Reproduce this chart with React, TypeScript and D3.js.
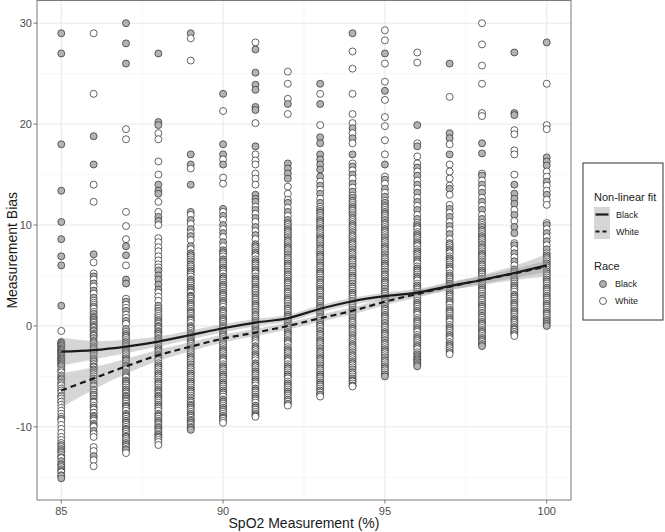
import React from 'react';
import * as d3 from 'd3';

const spo2 = [85, 86, 87, 88, 89, 90, 91, 92, 93, 94, 95, 96, 97, 98, 99, 100];

const blackBias: number[][] = [
  [29, 27, 18, 13.4, 10.3, 8.6, 6.9, 6, 2, -1.6, -1.9, -2.2, -2.5, -2.8, -3.1, -3.4, -3.7, -4, -5.3, -7.5, -9.2, -11.8, -12.5, -13.4, -14.2, -14.8, -15.1],
  [18.8, 16, 7.1, 4.9, 4.2, 3.5, 2.8, 1.2, 0.6, 0.1, -0.5, -1.2, -2.0, -2.7, -3.5, -4.4, -5.2, -6.3, -7.5, -8.6, -9.2, -9.7, -10.4, -12.9],
  [30, 28, 26, 7.9, 7.0, 4.6, 4.2, 2.4, 1.5, 0.5, -0.3, -1.0, -1.8, -2.6, -3.4, -4.0, -4.8, -5.7, -6.5, -7.2, -8.0, -8.9, -9.6, -10.3, -11.0, -11.8, -12.3],
  [27, 20.2, 19.9, 14.0, 13.4, 13.1, 10.8, 10.4, 5.5, 5.0, 4.6, 4.1, 3.6, 2.0, 0.4, 0.0, -0.6, -1.3, -2.2, -3.0, -3.9, -4.7, -5.5, -6.3, -7.0, -7.8, -8.7, -9.4, -10.1, -10.8],
  [29, 17, 16, 14, 11.3, 10.5, 9.6, 8.9, 7.9, 7.0, 6.1, 5.3, 4.4, 3.6, 2.9, 2.1, 1.3, 0.6, -0.2, -0.9, -1.6, -2.4, -3.2, -4.1, -4.9, -5.7, -6.5, -7.4, -8.1, -8.9, -9.6, -10.3],
  [23, 18, 17, 16, 11.6, 10.9, 10.0, 9.2, 8.3, 7.5, 6.6, 5.8, 4.9, 4.1, 3.3, 2.5, 1.6, 0.8, 0.0, -0.7, -1.5, -2.3, -3.1, -4.0, -4.8, -5.6, -6.4, -7.3, -8.1, -8.9],
  [27.4, 25.1, 23.9, 23.4, 21.7, 21.4, 17.8, 13.0, 12.6, 12.3, 11.5, 10.7, 9.8, 9.0, 8.1, 7.3, 6.4, 5.6, 4.7, 3.9, 3.1, 2.2, 1.4, 0.5, -0.3, -1.1, -2.0, -2.8, -3.7, -4.5, -5.3, -6.2, -7.0, -7.9, -8.7],
  [22, 16.1, 15.6, 15.1, 14.6, 12.2, 11.3, 10.5, 9.6, 8.8, 7.9, 7.1, 6.2, 5.4, 4.5, 3.7, 2.8, 2.0, 1.1, 0.3, -0.6, -1.4, -2.3, -3.1, -4.0, -4.8, -5.7, -6.5, -7.3],
  [24, 22, 18.7, 18.1, 17, 16.5, 16, 15.5, 14.8, 13.9, 13.1, 12.2, 11.4, 10.5, 9.7, 8.8, 8.0, 7.1, 6.3, 5.4, 4.6, 3.7, 2.9, 2.0, 1.2, 0.3, -0.5, -1.4, -2.2, -3.1, -3.9, -4.8, -5.6, -6.4],
  [29, 19.6, 18.6, 17.0, 15.8, 15.0, 14.1, 13.3, 12.4, 11.6, 10.7, 9.9, 9.0, 8.2, 7.3, 6.5, 5.6, 4.8, 3.9, 3.1, 2.2, 1.4, 0.5, -0.3, -1.2, -2.0, -2.9, -3.7, -4.6, -5.4],
  [27, 23.3, 16, 14.5, 13.6, 12.8, 11.9, 11.1, 10.2, 9.4, 8.5, 7.7, 6.8, 6.0, 5.1, 4.3, 3.4, 2.6, 1.7, 0.9, 0.0, -0.8, -1.7, -2.5, -3.4, -4.2, -5.0],
  [19.9, 17.8, 15.7, 14.9, 14.0, 13.2, 12.3, 11.5, 10.6, 9.8, 8.9, 8.1, 7.2, 6.4, 5.5, 4.7, 3.8, 3.0, 2.1, 1.3, 0.4, -0.4, -1.3, -2.1, -3.0, -3.6, -4.0],
  [26, 19.1, 18.6, 17, 13.6, 11.6, 10.8, 9.9, 9.1, 8.2, 7.4, 6.5, 5.7, 4.8, 4.0, 3.1, 2.3, 1.4, 0.6, -0.3, -1.1, -2.0],
  [18.1, 17.1, 14.9, 14.0, 13.2, 12.3, 11.5, 10.6, 9.8, 8.9, 8.1, 7.2, 6.4, 5.5, 4.7, 3.8, 3.0, 2.1, 1.3, 0.4, -0.4, -1.2, -2.0],
  [27.1, 21.1, 20.9, 14, 13.1, 12.6, 12.1, 11.0, 9.8, 9.2, 8.0, 7.2, 6.4, 5.6, 4.8, 4.0, 3.1, 2.3, 1.5, 0.7, -0.1, -0.6],
  [28.1, 16.7, 16.3, 15.9, 14.3, 13, 10.0, 9.2, 8.4, 7.6, 6.8, 6.0, 5.2, 4.4, 3.6, 2.8, 2.0, 1.2, 0.4, 0.0],
];

const whiteBias: number[][] = [
  [-0.5, -1.8, -2.4, -3.3, -4.3, -4.6, -4.9, -5.2, -5.6, -5.9, -6.2, -6.6, -6.9, -7.2, -7.8, -8.1, -8.7, -9.0, -9.4, -9.8, -10.2, -10.6, -11.0, -11.3, -12.0, -12.8, -13.1, -13.7, -14.5],
  [29, 23, 14, 12.3, 6.3, 5.2, 4.6, 3.9, 3.2, 2.5, 2.1, 1.7, 0.9, 0.3, -0.2, -0.8, -1.5, -1.8, -2.4, -3.0, -3.8, -4.1, -4.8, -5.5, -5.9, -6.6, -7.0, -7.9, -8.3, -8.9, -10.0, -10.7, -11.0, -12.0, -12.4, -13.3, -13.9],
  [19.5, 18.5, 11.3, 9.9, 8.6, 6.0, 2.7, 2.1, 1.8, 1.1, 0.8, 0.2, -0.6, -1.4, -2.1, -2.3, -3.0, -3.7, -4.3, -5.1, -5.4, -6.1, -6.9, -7.5, -7.7, -8.4, -9.2, -10.0, -10.7, -11.4, -12.0, -12.6],
  [19.1, 18.5, 16.3, 15.0, 12.3, 11.3, 10.0, 8.7, 8.3, 7.8, 7.4, 6.9, 6.5, 6.1, 5.8, 3.3, 2.9, 2.5, 1.7, 1.2, 0.8, -0.3, -1.0, -1.7, -2.6, -2.9, -3.4, -4.3, -5.1, -5.9, -6.7, -7.4, -8.2, -9.0, -9.8, -10.5, -11.1, -11.5, -11.8],
  [28.5, 26.3, 15.6, 11.0, 10.1, 9.2, 8.5, 7.6, 6.6, 5.7, 4.9, 4.0, 3.3, 2.5, 1.7, 1.0, 0.3, -0.5, -1.3, -2.0, -2.8, -3.6, -4.5, -5.3, -6.1, -6.9, -7.8, -8.5, -9.3, -10.0],
  [21.3, 16.5, 14.7, 14.1, 11.3, 10.5, 9.6, 8.8, 7.9, 7.1, 6.2, 5.4, 4.5, 3.7, 2.9, 2.1, 1.2, 0.4, -0.3, -1.1, -1.9, -2.7, -3.5, -4.4, -5.2, -6.0, -6.8, -7.7, -8.5, -9.2, -9.6],
  [28.1, 20.1, 17.0, 16.4, 16.0, 15.1, 14.6, 14.0, 11.8, 11.1, 10.3, 9.4, 8.6, 7.7, 6.9, 6.0, 5.2, 4.3, 3.5, 2.6, 1.8, 0.9, 0.1, -0.7, -1.5, -2.4, -3.2, -4.1, -4.9, -5.7, -6.6, -7.4, -8.3, -9.0],
  [25.2, 24, 22.5, 21, 13.8, 13.1, 12.5, 11.7, 10.9, 10.0, 9.2, 8.3, 7.5, 6.6, 5.8, 4.9, 4.1, 3.2, 2.4, 1.5, 0.7, -0.2, -1.0, -1.8, -2.7, -3.5, -4.4, -5.2, -6.1, -6.9, -7.5, -7.9],
  [23, 19.9, 14.3, 13.5, 12.6, 11.8, 10.9, 10.1, 9.2, 8.4, 7.5, 6.7, 5.8, 5.0, 4.1, 3.3, 2.4, 1.6, 0.7, -0.1, -1.0, -1.8, -2.7, -3.5, -4.4, -5.2, -6.0, -6.6, -7.0],
  [27.2, 25.5, 23, 21, 20.1, 19.1, 18.1, 16.1, 15.4, 14.6, 13.7, 12.9, 12.0, 11.2, 10.3, 9.5, 8.6, 7.8, 6.9, 6.1, 5.2, 4.4, 3.5, 2.7, 1.8, 1.0, 0.1, -0.7, -1.6, -2.4, -3.3, -4.1, -5.0, -5.7, -6.0],
  [29.3, 28.3, 26, 24.2, 22.4, 20.7, 19.8, 18.4, 17, 14.8, 14.1, 13.2, 12.4, 11.5, 10.7, 9.8, 9.0, 8.1, 7.3, 6.4, 5.6, 4.7, 3.9, 3.0, 2.2, 1.3, 0.5, -0.4, -1.2, -2.1, -2.9, -3.8, -4.6],
  [27.1, 26.1, 18.1, 16.8, 16.1, 15.3, 14.4, 13.6, 12.7, 11.9, 11.0, 10.2, 9.3, 8.5, 7.6, 6.8, 5.9, 5.1, 4.2, 3.4, 2.5, 1.7, 0.8, 0.0, -0.9, -1.7, -2.6, -3.3],
  [22.7, 18, 16, 15.3, 14.6, 13.9, 13, 12.0, 11.2, 10.3, 9.5, 8.6, 7.8, 6.9, 6.1, 5.2, 4.4, 3.5, 2.7, 1.8, 1.0, 0.1, -0.7, -1.6, -2.4, -2.8],
  [30, 27.9, 25.8, 24, 21.1, 20.8, 15.1, 14.4, 13.6, 12.7, 11.9, 11.0, 10.2, 9.3, 8.5, 7.6, 6.8, 5.9, 5.1, 4.2, 3.4, 2.5, 1.7, 0.8, 0.0, -0.8, -1.6],
  [19.4, 19, 17.4, 17, 15, 11.5, 10.4, 8.2, 7.6, 6.8, 6.0, 5.2, 4.4, 3.6, 2.7, 1.9, 1.1, 0.3, -0.4, -1.0],
  [24, 19.9, 19.5, 15.3, 14.8, 13.9, 13.4, 12.5, 12, 10.2, 9.6, 8.8, 8.0, 7.2, 6.4, 5.6, 4.8, 4.0, 3.2, 2.4, 1.6, 0.8],
];

// additional readings in the densely overplotted core of each column
const blackBiasCore: number[][] = [
  [-1.7, -2.0, -2.35, -2.65, -2.95, -3.25, -3.55, -3.85, -12.2, -13.0, -13.8, -14.4],
  [1.9, 0.8, -0.1, -0.9, -1.6, -2.2, -3.2, -4.0, -4.6, -5.7, -6.8, -7.2, -8.1, -9.0, -9.9],
  [-0.8, -1.6, -2.4, -3.2, -3.9, -4.6, -5.5, -6.3, -7.0, -7.9, -8.7, -9.4, -10.2, -10.9, -11.6],
  [1.5, 0.6, -0.1, -0.8, -1.5, -2.4, -3.2, -4.1, -4.9, -5.7, -6.5, -7.2, -8.0, -8.9, -9.6, -10.3, -11.0],
  [7.2, 6.4, 5.5, 4.6, 3.8, 3.0, 2.3, 1.5, 0.8, 0.0, -0.7, -1.4, -2.2, -3.0, -3.8, -4.7, -5.5, -6.3, -7.1, -7.9, -8.7, -9.4, -10.1],
  [7.3, 6.4, 5.6, 4.7, 3.9, 3.1, 2.3, 1.4, 0.6, -0.2, -0.9, -1.7, -2.5, -3.3, -4.2, -5.0, -5.8, -6.6, -7.5, -8.3, -9.1],
  [7.9, 7.1, 6.2, 5.4, 4.5, 3.7, 2.8, 2.0, 1.1, 0.3, -0.5, -1.3, -2.2, -3.0, -3.9, -4.7, -5.5, -6.4, -7.2, -8.1, -8.9],
  [10.2, 9.4, 8.5, 7.7, 6.8, 6.0, 5.1, 4.3, 3.4, 2.6, 1.7, 0.9, 0.0, -0.8, -1.6, -2.5, -3.3, -4.2, -5.0, -5.9, -6.7, -7.7],
  [11.2, 10.3, 9.5, 8.6, 7.7, 6.9, 6.0, 5.2, 4.3, 3.5, 2.6, 1.8, 0.9, 0.1, -0.8, -1.6, -2.5, -3.3, -4.2, -5.0, -5.8, -6.8],
  [12.7, 11.8, 11.0, 10.1, 9.3, 8.4, 7.6, 6.7, 5.9, 5.0, 4.2, 3.3, 2.5, 1.6, 0.8, -0.1, -0.9, -1.8, -2.6, -3.5, -4.3, -5.2, -5.9],
  [12.2, 11.3, 10.5, 9.6, 8.8, 7.9, 7.1, 6.2, 5.4, 4.5, 3.7, 2.8, 2.0, 1.1, 0.3, -0.6, -1.4, -2.3, -3.1, -4.0, -4.8],
  [10.0, 9.1, 8.3, 7.4, 6.6, 5.7, 4.9, 4.0, 3.2, 2.3, 1.5, 0.6, -0.2, -1.1, -1.9, -2.8, -3.4, -3.8],
  [7.6, 6.7, 5.9, 5.0, 4.2, 3.3, 2.5, 1.6, 0.8, -0.1, -0.9, -1.8, -2.6],
  [9.5, 8.7, 7.8, 7.0, 6.1, 5.3, 4.4, 3.6, 2.7, 1.9, 1.0, 0.2, -0.6, -1.4, -1.8],
  [5.4, 4.6, 3.8, 2.9, 2.1, 1.3, 0.5, -0.3, -0.8],
  [7.0, 6.2, 5.4, 4.6, 3.8, 3.0, 2.2, 1.4, 0.6, 0.2],
];

const whiteBiasCore: number[][] = [
  [-4.45, -5.05, -5.75, -6.4, -7.0, -7.5, -8.4, -11.6, -12.4, -14.0, -14.9],
  [2.3, 1.4, 0.4, -0.4, -1.0, -2.6, -3.4, -4.3, -5.0, -6.0, -6.4, -7.6, -8.6, -9.4],
  [-1.2, -2.0, -2.8, -3.5, -4.2, -5.0, -5.9, -6.7, -7.4, -8.2, -9.0, -9.8, -10.5, -11.2, -12.2],
  [1.0, 0.2, -0.5, -1.2, -2.0, -2.8, -3.7, -4.5, -5.3, -6.1, -6.9, -7.6, -8.4, -9.2, -10.0, -10.7, -11.3],
  [6.8, 5.9, 5.1, 4.2, 3.4, 2.7, 1.9, 1.2, 0.5, -0.3, -1.1, -1.8, -2.6, -3.4, -4.3, -5.1, -5.9, -6.7, -7.6, -8.3, -9.1, -9.8],
  [6.9, 6.0, 5.2, 4.3, 3.5, 2.7, 1.9, 1.0, 0.2, -0.5, -1.3, -2.1, -2.9, -3.8, -4.6, -5.4, -6.2, -7.0, -7.9, -8.7, -9.4],
  [7.5, 6.6, 5.8, 4.9, 4.1, 3.3, 2.4, 1.6, 0.7, -0.1, -0.9, -1.7, -2.6, -3.4, -4.3, -5.1, -5.9, -6.8, -7.6, -8.5],
  [9.8, 9.0, 8.1, 7.3, 6.4, 5.6, 4.7, 3.9, 3.0, 2.2, 1.3, 0.5, -0.4, -1.2, -2.1, -2.9, -3.8, -4.6, -5.5, -6.3, -7.1],
  [11.6, 10.7, 9.9, 9.0, 8.2, 7.3, 6.5, 5.6, 4.8, 3.9, 3.1, 2.2, 1.4, 0.5, -0.3, -1.2, -2.0, -2.9, -3.7, -4.6, -5.4, -6.2],
  [12.2, 11.4, 10.5, 9.7, 8.8, 8.0, 7.1, 6.3, 5.4, 4.6, 3.7, 2.9, 2.0, 1.2, 0.3, -0.5, -1.4, -2.2, -3.1, -3.9, -4.8, -5.5],
  [11.7, 10.9, 10.0, 9.2, 8.3, 7.5, 6.6, 5.8, 4.9, 4.1, 3.2, 2.4, 1.5, 0.7, -0.2, -1.0, -1.9, -2.7, -3.6, -4.4],
  [9.6, 8.7, 7.9, 7.0, 6.2, 5.3, 4.5, 3.6, 2.8, 1.9, 1.1, 0.2, -0.6, -1.5, -2.3, -3.2],
  [8.0, 7.2, 6.3, 5.5, 4.6, 3.8, 2.9, 2.1, 1.2, 0.4, -0.5, -1.3, -2.2],
  [10.0, 9.1, 8.3, 7.4, 6.6, 5.7, 4.9, 4.0, 3.2, 2.3, 1.5, 0.6, -0.2, -1.0],
  [5.0, 4.2, 3.4, 2.5, 1.7, 0.9, 0.1, -0.6],
  [6.6, 5.8, 5.0, 4.2, 3.4, 2.6, 1.8, 1.0],
];

const fitBlack = [-2.55, -2.4, -2.05, -1.55, -0.9, -0.23, 0.33, 0.76, 1.7, 2.45, 2.95, 3.3, 3.95, 4.55, 5.25, 6.0];
const fitWhite = [-6.4, -5.2, -4.0, -2.9, -2.05, -1.25, -0.66, 0, 0.76, 1.5, 2.4, 3.17, 3.9, 4.55, 5.2, 5.9];
const seBlack = [1.4, 0.9, 0.65, 0.5, 0.45, 0.4, 0.35, 0.35, 0.35, 0.35, 0.35, 0.35, 0.4, 0.5, 0.7, 1.1];
const seWhite = [1.7, 1.1, 0.75, 0.55, 0.45, 0.4, 0.35, 0.35, 0.35, 0.35, 0.35, 0.35, 0.35, 0.4, 0.45, 0.55];

const xTicks = [85, 90, 95, 100];
const xMinor = [87.5, 92.5, 97.5];
const yTicks = [-10, 0, 10, 20, 30];
const yMinor = [-15, -5, 5, 15, 25];

const FONT = "'Liberation Sans', Arial, Helvetica, sans-serif";
const BLACK_FILL = '#b3b3b3';

export default function App() {
  const W = 665, H = 532;
  const L = 37, R = 571, T = 0.5, B = 500;
  const x = d3.scaleLinear().domain([84.25, 100.75]).range([L, R]);
  const y = d3.scaleLinear().domain([-17.25, 32.25]).range([B, T]);

  type P = { s: number; v: number; race: string };
  const pts: P[] = [];
  spo2.forEach((s, i) => {
    blackBias[i].forEach((v) => pts.push({ s, v, race: 'Black' }));
    whiteBias[i].forEach((v) => pts.push({ s, v, race: 'White' }));
    blackBiasCore[i].forEach((v) => pts.push({ s, v, race: 'Black' }));
    whiteBiasCore[i].forEach((v) => pts.push({ s, v, race: 'White' }));
  });
  pts.sort((a, b) => b.v - a.v);

  const curve = d3.curveCatmullRom.alpha(0.5);
  const line = d3.line<number>().x((_, i) => x(spo2[i])).y((d) => y(d)).curve(curve);
  const band = (fit: number[], se: number[]) =>
    d3.area<number>()
      .x((_, i) => x(spo2[i]))
      .y0((d, i) => y(d - se[i]))
      .y1((d, i) => y(d + se[i]))
      .curve(curve)(fit) || '';

  return (
    <svg width={W} height={H} style={{ position: 'absolute', left: 0, top: 0, background: '#fff' }} fontFamily={FONT}>
      <rect x={0} y={0} width={W} height={H} fill="#fff" />
      <defs>
        <clipPath id="panel">
          <rect x={L} y={T} width={R - L} height={B - T} />
        </clipPath>
      </defs>
      {xMinor.map((t) => (
        <line key={'xm' + t} x1={x(t)} x2={x(t)} y1={T} y2={B} stroke="#f0f0f0" strokeWidth={0.6} />
      ))}
      {yMinor.map((t) => (
        <line key={'ym' + t} x1={L} x2={R} y1={y(t)} y2={y(t)} stroke="#f0f0f0" strokeWidth={0.6} />
      ))}
      {xTicks.map((t) => (
        <line key={'xg' + t} x1={x(t)} x2={x(t)} y1={T} y2={B} stroke="#e8e8e8" strokeWidth={1} />
      ))}
      {yTicks.map((t) => (
        <line key={'yg' + t} x1={L} x2={R} y1={y(t)} y2={y(t)} stroke="#e8e8e8" strokeWidth={1} />
      ))}
      <g clipPath="url(#panel)">
        {pts.map((p, i) => (
          <circle
            key={i}
            cx={x(p.s)}
            cy={y(p.v)}
            r={3.5}
            fill={p.race === 'Black' ? BLACK_FILL : '#ffffff'}
            stroke="#333333"
            strokeWidth={0.75}
          />
        ))}
        <path d={band(fitBlack, seBlack)} fill="#999999" fillOpacity={0.4} />
        <path d={band(fitWhite, seWhite)} fill="#999999" fillOpacity={0.4} />
        <path d={line(fitBlack) || ''} fill="none" stroke="#1a1a1a" strokeWidth={2.2} />
        <path d={line(fitWhite) || ''} fill="none" stroke="#1a1a1a" strokeWidth={2.2} strokeDasharray="6,4" />
      </g>
      <rect x={L} y={T} width={R - L} height={B - T} fill="none" stroke="#7a7a7a" strokeWidth={1} />
      {xTicks.map((t) => (
        <g key={'xt' + t}>
          <line x1={x(t)} x2={x(t)} y1={B} y2={B + 3.5} stroke="#555" strokeWidth={0.8} />
          <text x={x(t)} y={B + 15} textAnchor="middle" fontSize={11} fill="#4d4d4d">{t}</text>
        </g>
      ))}
      {yTicks.map((t) => (
        <g key={'yt' + t}>
          <line x1={L - 3.5} x2={L} y1={y(t)} y2={y(t)} stroke="#555" strokeWidth={0.8} />
          <text x={L - 5} y={y(t) + 4} textAnchor="end" fontSize={11} fill="#4d4d4d">{t}</text>
        </g>
      ))}
      <text x={(L + R) / 2} y={528} textAnchor="middle" fontSize={14} fill="#1a1a1a">SpO2 Measurement (%)</text>
      <text transform={`translate(17, ${(T + B) / 2}) rotate(-90)`} textAnchor="middle" fontSize={14} fill="#1a1a1a">Measurement Bias</text>
      <rect x={583} y={163} width={80} height={157} fill="#fff" stroke="#333" strokeWidth={1} />
      <text x={594} y={201} fontSize={11} fill="#1a1a1a">Non-linear fit</text>
      <rect x={594} y={207} width={16} height={32} fill="#d6d6d6" />
      <line x1={595.5} x2={608.5} y1={214.5} y2={214.5} stroke="#1a1a1a" strokeWidth={2.2} />
      <line x1={595.5} x2={608.5} y1={231.5} y2={231.5} stroke="#1a1a1a" strokeWidth={2.2} strokeDasharray="4,3" />
      <text x={616} y={217.5} fontSize={9} fill="#1a1a1a">Black</text>
      <text x={616} y={234.5} fontSize={9} fill="#1a1a1a">White</text>
      <text x={594} y={270} fontSize={11} fill="#1a1a1a">Race</text>
      <circle cx={603} cy={284} r={3.5} fill={BLACK_FILL} stroke="#333333" strokeWidth={0.75} />
      <circle cx={603} cy={301} r={3.5} fill="#fff" stroke="#333333" strokeWidth={0.75} />
      <text x={615} y={287} fontSize={9} fill="#1a1a1a">Black</text>
      <text x={615} y={304} fontSize={9} fill="#1a1a1a">White</text>
    </svg>
  );
}
